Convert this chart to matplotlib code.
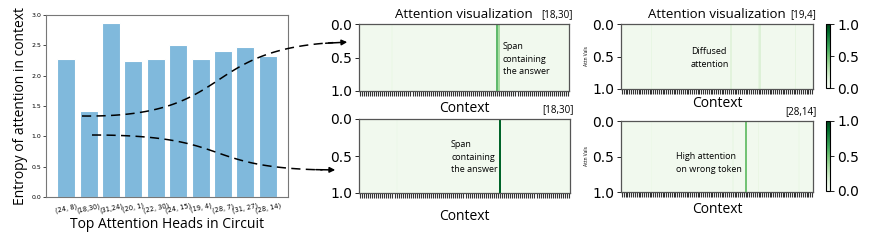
import numpy as np
import matplotlib.pyplot as plt
from matplotlib.lines import Line2D
from matplotlib.patches import FancyArrowPatch

# bar chart data
heads = ['(24, 8)', '(18,30)', '(31,24)', '(20, 1)', '(22, 30)',
         '(24, 15)', '(19, 4)', '(28, 7)', '(31, 27)', '(28, 14)']
entropy = [2.28, 1.41, 2.87, 2.24, 2.27, 2.50, 2.28, 2.40, 2.48, 2.33]

# attention maps: 104 context tokens, low baseline plus a few peaks
n_tokens = 104
baseline = 0.04
peaks_18_30_a = {16: 0.07, 68: 0.55, 69: 0.35}
peaks_18_30_b = {18: 0.06, 69: 0.9}
peaks_19_4 = {16: 0.1, 59: 0.14, 74: 0.12, 75: 0.16, 94: 0.12}
peaks_28_14 = {16: 0.07, 60: 0.08, 67: 0.5, 74: 0.09, 96: 0.07}

label_font = ['Open Sans', 'DejaVu Sans']

def attn_row(peaks):
    row = np.full(n_tokens, baseline)
    for k, v in peaks.items():
        row[k] = v
    return row[None, :]

fig = plt.figure(figsize=(8.73, 2.4), dpi=100)
W, H = 873.0, 240.0

def px_axes(x0, y0, x1, y1):
    return fig.add_axes([x0 / W, 1 - y1 / H, (x1 - x0) / W, (y1 - y0) / H])

# --- bar chart ---
ax = px_axes(46, 15, 288, 197)
ax.bar(range(len(heads)), entropy, width=0.8, color='#80b9dc', edgecolor='white', linewidth=0.8)
ax.set_xlim(-0.9, len(heads) - 0.1)
ax.set_ylim(0, 3.0)
ax.set_yticks([0, 0.5, 1.0, 1.5, 2.0, 2.5, 3.0])
ax.tick_params(axis='y', labelsize=4.5, length=2, width=0.5, pad=1.5)
ax.set_xticks(range(len(heads)))
ax.set_xticklabels(heads, rotation=12, fontsize=4.8)
ax.tick_params(axis='x', length=0, pad=4)
for s in ax.spines.values():
    s.set_color('#777777')
    s.set_linewidth(0.8)
ax.set_ylabel('Entropy of attention in context', fontsize=10, family=label_font, labelpad=2)
ax.set_xlabel('Top Attention Heads in Circuit', fontsize=10, family=label_font, labelpad=2)

# --- heatmaps ---
maps = [
    (peaks_18_30_a, (359, 24, 569, 91), '[18,30]', 'Span\ncontaining\nthe answer', (503, 59), 'left', True, False, 4),
    (peaks_18_30_b, (359, 119, 570, 193), '[18,30]', 'Span\ncontaining\nthe answer', (451, 157), 'left', False, False, 8),
    (peaks_19_4, (621, 24, 813, 89), '[19,4]', 'Diffused\nattention', (710, 58), 'center', True, True, 1.5),
    (peaks_28_14, (621, 121, 813, 192), '[28,14]', 'High attention\non wrong token', (676, 163), 'left', False, True, 4),
]
for peaks, box, tag, note, (tx, ty), ha, titled, has_cbar, xpad in maps:
    hx = px_axes(*box)
    im = hx.imshow(attn_row(peaks), cmap='Greens', vmin=0, vmax=1, aspect='auto',
                   extent=[0, n_tokens, 1, 0], interpolation='nearest')
    hx.set_xticks(np.arange(n_tokens) + 0.5)
    hx.set_xticklabels([])
    hx.tick_params(axis='x', length=3.3, width=0.8, pad=0, color='#333333')
    hx.set_yticks([0, 0.5, 1.0])
    hx.set_yticklabels(['0.0', '0.5', '1.0'])
    hx.tick_params(axis='y', labelsize=10, length=3, width=0.6, pad=2)
    for s in hx.spines.values():
        s.set_color('#555555')
        s.set_linewidth(0.9)
    hx.set_xlabel('Context', fontsize=10, family=label_font, labelpad=xpad)
    if titled:
        fig.text((box[0] + box[2]) / 2 / W, 1 - 14 / H, 'Attention visualization',
                 fontsize=9.5, family=label_font, ha='center', va='center')
    fig.text(box[2] / W + 0.004, 1 - (box[1] - 9) / H, tag, fontsize=7, family=label_font,
             ha='right', va='center')
    hx.text(tx / W, 1 - ty / H, note, transform=fig.transFigure, fontsize=6.5, family=label_font,
            ha=ha, va='center', multialignment='left', linespacing=1.45)
    if has_cbar:
        hx.set_ylabel('Attn Vals', fontsize=3.5, family=label_font, labelpad=2)
        cx = px_axes(826, box[1], 830, box[3] - 1)
        cb = fig.colorbar(im, cax=cx, ticks=[0, 0.5, 1.0])
        cb.ax.set_yticklabels(['0.0', '0.5', '1.0'])
        cb.ax.tick_params(labelsize=10, length=3, width=0.6, pad=2)
        cb.outline.set_linewidth(0.8)

# --- dashed connectors from bar chart to heatmaps ---
def bezier(p0, p1, p2, p3, n=80):
    t = np.linspace(0, 1, n)[:, None]
    pts = ((1 - t) ** 3) * p0 + 3 * ((1 - t) ** 2) * t * p1 + 3 * (1 - t) * t ** 2 * p2 + t ** 3 * p3
    return pts[:, 0] / W, 1 - pts[:, 1] / H

connectors = [
    [(82, 116), (240, 118), (195, 45), (350, 42)],
    [(92, 135), (240, 135), (195, 170), (338, 170)],
]
for c in connectors:
    p = [np.array(v, dtype=float) for v in c]
    xs, ys = bezier(*p)
    fig.add_artist(Line2D(xs[:-3], ys[:-3], transform=fig.transFigure, color='black',
                          lw=1.1, linestyle=(0, (6, 3.5))))
    fig.add_artist(FancyArrowPatch((xs[-6], ys[-6]), (xs[-1], ys[-1]), transform=fig.transFigure,
                                   arrowstyle='-|>', mutation_scale=8, color='black', lw=1.1))

fig.savefig('out.png', dpi=100)
